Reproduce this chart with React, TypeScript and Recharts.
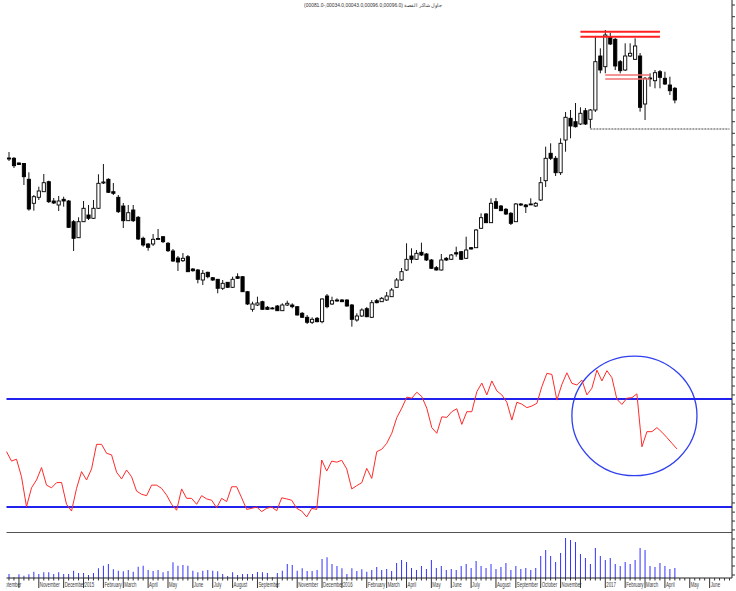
import React from 'react';
import { ComposedChart, Bar, Line, XAxis, YAxis, ReferenceLine, ReferenceArea } from 'recharts';

// ---------- data (weekly) ----------
const WEEKS = 146; // weekly slots on the time axis (data + empty future weeks)

const opens = [
  24.2, 24.17, 23.7, 23.65, 22.07, 19.67, 20.27, 20.83, 21.83, 19.9,
  19.5, 20.07, 19.9, 17.83, 16.23, 17.83, 18.5, 18.17, 19.17, 21.7,
  22.07, 20.83, 20.27, 19.4, 17.93, 19.0, 18.27, 16.17, 15.6, 15.6,
  16.1, 16.33, 15.67, 14.9, 14.2, 13.93, 14.33, 13.1, 13.0, 12.0,
  12.77, 12.23, 12.07, 11.17, 11.77, 11.27, 12.33, 12.33, 10.83, 9.07,
  9.5, 9.83, 9.27, 9.2, 9.4, 8.93, 9.5, 9.5, 9.33, 8.67,
  8.27, 7.77, 8.17, 7.83, 10.4, 9.6, 10.0, 10.0, 10.0, 9.5,
  8.0, 8.4, 9.13, 8.27, 9.93, 9.83, 10.0, 10.33, 11.27, 12.0,
  13.0, 14.4, 14.07, 14.77, 14.6, 14.0, 13.23, 13.0, 14.17, 14.07,
  14.73, 14.83, 14.17, 15.23, 15.23, 17.17, 18.6, 17.73, 19.83, 19.4,
  19.07, 18.67, 17.83, 19.6, 19.5, 19.55, 19.4, 20.0, 21.93, 24.67,
  24.17, 22.73, 26.0, 28.17, 27.83, 27.6, 28.93, 28.07, 29.0, 34.4,
  33.33, 36.33, 36.07, 33.83, 33.0, 34.4, 34.07, 34.4, 29.6, 32.17,
  31.93, 32.83, 32.17, 31.5, 31.17,
];
const highs = [
  24.8, 24.3, 23.75, 23.7, 22.77, 20.5, 21.33, 22.6, 21.93, 20.2,
  20.4, 20.33, 20.0, 18.0, 18.27, 19.9, 19.5, 20.0, 22.57, 23.6,
  22.17, 21.7, 20.5, 19.7, 19.5, 19.5, 18.4, 16.33, 15.7, 16.6,
  17.1, 16.4, 15.8, 15.1, 14.4, 14.7, 14.5, 13.2, 13.1, 13.0,
  12.83, 12.3, 12.1, 12.0, 11.8, 12.33, 12.67, 12.4, 10.9, 9.83,
  10.33, 9.93, 9.4, 9.3, 9.5, 9.67, 9.93, 9.67, 9.4, 8.8,
  8.5, 8.27, 8.3, 10.17, 10.6, 10.33, 10.17, 10.1, 10.07, 9.6,
  8.67, 9.17, 9.3, 10.0, 10.1, 10.3, 10.8, 11.2, 12.2, 13.2,
  15.67, 15.17, 15.0, 15.73, 14.7, 14.1, 13.4, 14.6, 14.3, 14.6,
  15.33, 14.9, 16.33, 15.3, 17.1, 18.67, 18.7, 20.17, 20.2, 19.5,
  19.2, 18.8, 19.7, 19.7, 19.6, 20.17, 19.8, 22.3, 25.33, 25.67,
  24.4, 26.17, 28.8, 29.0, 29.7, 29.27, 29.2, 29.1, 36.33, 35.17,
  37.0, 36.73, 36.2, 34.0, 35.67, 35.67, 36.17, 34.7, 32.3, 32.67,
  33.0, 33.0, 32.83, 32.33, 31.3,
];
const lows = [
  23.9, 23.2, 23.5, 21.5, 18.93, 18.93, 20.0, 20.8, 19.7, 19.6,
  18.9, 19.33, 17.2, 14.9, 16.2, 17.8, 18.0, 18.1, 19.1, 21.6,
  20.7, 20.5, 18.7, 17.2, 17.9, 17.8, 16.0, 15.33, 14.93, 15.4,
  16.0, 15.7, 14.8, 13.8, 12.9, 13.8, 12.8, 12.83, 11.67, 11.5,
  12.17, 11.9, 10.67, 11.0, 11.2, 11.2, 12.1, 10.8, 9.5, 8.83,
  9.4, 9.0, 9.0, 9.07, 8.9, 8.9, 9.4, 9.17, 8.45, 8.2,
  7.6, 7.6, 7.77, 7.67, 9.17, 9.5, 9.83, 9.8, 9.33, 7.33,
  7.83, 8.3, 8.27, 8.2, 9.67, 9.8, 9.9, 10.3, 11.2, 11.9,
  12.9, 13.67, 14.0, 14.4, 13.9, 13.1, 12.95, 12.95, 13.9, 14.0,
  14.33, 14.0, 14.1, 15.05, 15.2, 17.1, 17.7, 17.7, 19.1, 18.9,
  18.5, 17.5, 17.8, 19.4, 18.7, 19.5, 19.3, 19.9, 21.3, 24.0,
  22.4, 22.5, 24.83, 26.17, 27.25, 27.5, 27.5, 27.17, 28.8, 32.67,
  32.67, 35.5, 33.0, 32.67, 32.9, 34.3, 34.0, 28.83, 28.0, 31.33,
  31.17, 31.17, 31.5, 30.5, 29.67,
];
const closes = [
  24.1, 23.43, 23.55, 22.33, 19.1, 20.33, 20.9, 21.73, 19.83, 19.7,
  19.9, 19.9, 17.27, 16.17, 17.83, 19.17, 18.17, 19.17, 21.67, 21.8,
  20.77, 20.67, 18.83, 17.93, 18.73, 17.93, 16.1, 15.5, 15.27, 16.07,
  16.15, 15.83, 14.93, 13.9, 13.8, 14.17, 12.83, 12.93, 12.07, 12.67,
  12.33, 12.0, 11.17, 11.67, 11.27, 12.07, 12.17, 10.83, 9.6, 9.6,
  9.7, 9.07, 9.07, 9.15, 8.93, 9.5, 9.67, 9.33, 8.5, 8.27,
  7.77, 8.07, 7.83, 10.1, 9.33, 9.93, 9.9, 9.83, 9.4, 8.07,
  8.4, 9.0, 8.33, 9.73, 9.73, 10.17, 10.4, 11.0, 12.0, 12.83,
  14.07, 14.07, 14.67, 14.5, 14.0, 13.17, 13.0, 14.0, 14.0, 14.5,
  14.6, 14.07, 15.0, 15.1, 17.0, 18.23, 17.73, 19.67, 19.17, 18.93,
  18.6, 17.67, 19.6, 19.5, 19.33, 19.6, 19.67, 21.73, 24.17, 24.17,
  22.73, 25.67, 28.27, 27.4, 27.33, 28.67, 27.6, 29.0, 33.83, 33.0,
  36.5, 35.6, 33.4, 32.93, 34.4, 34.67, 35.4, 29.27, 32.17, 32.2,
  32.73, 32.27, 31.6, 30.93, 30.0,
];
const rsiValues = [
  50.5, 47.0, 47.7, 41.2, 30.1, 37.1, 40.0, 44.6, 38.1, 37.1,
  39.0, 39.1, 31.0, 28.5, 36.9, 43.1, 40.0, 44.1, 53.2, 53.2,
  49.9, 49.3, 42.9, 40.4, 43.7, 41.2, 35.9, 34.7, 34.2, 38.1,
  38.1, 36.9, 34.4, 31.0, 28.8, 36.7, 33.2, 33.2, 31.0, 34.2,
  33.0, 32.5, 29.7, 33.2, 32.0, 37.5, 37.5, 33.4, 29.1, 29.5,
  30.0, 28.3, 29.5, 30.0, 28.6, 33.4, 33.0, 32.5, 29.5, 28.5,
  26.3, 29.5, 29.1, 47.4, 43.3, 47.0, 46.6, 47.3, 44.1, 36.7,
  37.9, 39.0, 44.3, 40.6, 50.5, 51.4, 53.6, 57.3, 63.1, 66.6,
  70.7, 70.3, 72.5, 70.9, 66.6, 59.4, 57.3, 63.4, 63.2, 65.3,
  66.4, 60.6, 65.3, 65.3, 72.7, 75.9, 71.5, 76.7, 73.0, 71.5,
  68.8, 62.2, 68.8, 68.1, 66.8, 67.4, 68.4, 74.6, 79.5, 79.1,
  69.6, 75.4, 79.7, 75.8, 75.2, 77.0, 71.5, 74.0, 80.7, 76.7,
  80.5, 77.9, 69.9, 68.0, 70.3, 70.5, 71.9, 52.3, 57.9, 57.9,
  59.4, 57.7, 55.7, 53.6, 51.5,
];
const volumes = [
  400, 70, 370, 230, 370, 630, 400, 570, 570, 400,
  570, 400, 400, 730, 500, 500, 300, 500, 970, 1230,
  1400, 870, 730, 670, 800, 630, 1130, 1230, 800, 700,
  800, 570, 700, 1570, 1230, 1300, 1230, 730, 570, 730,
  800, 730, 670, 400, 200, 570, 300, 400, 400, 400,
  600, 570, 500, 70, 500, 730, 1400, 1300, 730, 970,
  700, 700, 800, 1900, 2070, 1400, 1200, 970, 400, 970,
  700, 870, 630, 800, 1100, 800, 900, 700, 1500, 1800,
  1600, 1000, 800, 1200, 900, 1800, 1000, 1200, 800, 900,
  800, 1200, 1400, 1000, 1700, 1200, 1000, 1400, 900, 1100,
  1500, 800, 1200, 900, 1000, 800, 1000, 2200, 2800, 2200,
  1600, 2500, 4000, 3800, 3600, 2400, 2000, 1400, 3000, 2200,
  1800, 2000, 1400, 1200, 1600, 1400, 1800, 3000, 2800, 1200,
  1100, 1500, 1200, 900, 1000,
];

// month ticks on the weekly axis ('' = tick without label)
const monthTickWeeks = [2, 6, 11, 15, 19, 23, 28, 32, 37, 41, 45, 50, 54, 58, 63, 67, 72, 76, 80, 85, 89, 93, 98, 102, 107, 111, 115, 120, 124, 128, 132, 137, 141];
const monthTickLabels = ['', 'November', 'December', '2015', 'February', 'March', 'April', 'May', 'June', 'July', 'August', 'September', '', 'November', 'December', '2016', 'February', 'March', 'April', 'May', 'June', 'July', 'August', 'September', 'October', 'November', '', '2017', 'February', 'March', 'April', 'May', 'June'];
const leadingMonthLabel = 'September';
const leadingMonthOffsetWeeks = 2;

const priceTicks = [39.5, 38.33, 37.17, 36.0, 34.83, 33.67, 32.5, 31.33, 30.17, 29.0, 27.83, 26.67, 25.5, 24.33, 23.17, 22.0, 20.83, 19.67, 18.5, 17.33, 16.17, 15.0, 13.83, 12.67, 11.5, 10.33, 9.17, 8.0, 6.83, 5.67];
const rsiTicks = [88.1, 84.8, 81.5, 78.1, 74.8, 71.5, 68.1, 64.8, 61.5, 58.1, 54.8, 51.5, 48.1, 44.8, 41.5, 38.1, 34.8, 31.5, 28.1, 24.8, 21.5];
const volTicks = [3900, 3000, 2100, 1200, 300];

const resistanceTop = [36.83, 36.33];
const resistanceMid = [32.5, 32.1];
const supportLevel = 27.1;
const titleText = '(00081.0-,00034.0,00043.0,00096.0,00096.0) جاول شاكر القصة';

// ---------- layout ----------
const CHART_W = 770;
const PLOT_LEFT = 6.5;
const AXIS_W = 38;
const BAND = (CHART_W - AXIS_W - PLOT_LEFT) / WEEKS;
const FONT = "'Liberation Sans', Arial, sans-serif";
const LABEL_SCALE = 0.64;

const rows = Array.from({ length: WEEKS }, (_, i) => ({
  week: i,
  open: i < opens.length ? opens[i] : null,
  close: i < closes.length ? closes[i] : null,
  high: i < highs.length ? highs[i] : null,
  low: i < lows.length ? lows[i] : null,
  range: i < opens.length ? [lows[i], highs[i]] : null,
  rsi: i < rsiValues.length ? rsiValues[i] : null,
  vol: i < volumes.length ? volumes[i] : null,
}));

function Candle(props: any) {
  const { x, y, width, height, payload } = props;
  if (!payload || payload.open == null || x == null || y == null) return null;
  const { open, close, high, low } = payload;
  const top = Math.min(y, y + height);
  const hPx = Math.abs(height);
  const span = high - low;
  const k = span > 0 ? hPx / span : 0;
  const cx = x + width / 2;
  const yO = top + (high - open) * k;
  const yC = top + (high - close) * k;
  const bTop = Math.min(yO, yC);
  const bH = Math.max(Math.abs(yC - yO), 0.9);
  const up = close >= open;
  return (
    <g>
      <line x1={cx} x2={cx} y1={top} y2={top + hPx} stroke="#151515" strokeWidth={1} />
      <rect x={cx - 1.6} y={bTop} width={3.2} height={bH} fill={up ? '#ffffff' : '#000000'} stroke="#000" strokeWidth={0.9} />
    </g>
  );
}

function EmptyTick() {
  return <g />;
}

function AxisLabel({ x, y, text, clip }: { x: number; y: number; text: string; clip?: string }) {
  return (
    <g clipPath={clip}>
      <text transform={`translate(${x} ${y}) scale(${LABEL_SCALE} 1)`} fontSize={6.8} fontFamily={FONT} fill="#3a3a3a">{text}</text>
    </g>
  );
}

function WeekTick(props: any) {
  const { x, y, payload } = props;
  const w = Number(payload.value);
  const mi = monthTickWeeks.indexOf(w);
  const isMonth = mi >= 0;
  const label = isMonth ? monthTickLabels[mi] : '';
  return (
    <g>
      <line x1={x} x2={x} y1={y} y2={y + (isMonth ? 10 : 2.5)} stroke="#333" strokeWidth={1} />
      {label ? <AxisLabel x={x + 1} y={y + 9.3} text={label} /> : null}
      {w === 0 ? (
        <g>
          <defs>
            <clipPath id="leftEdgeClip">
              <rect x={PLOT_LEFT} y={y - 5} width={200} height={30} />
            </clipPath>
          </defs>
          <AxisLabel x={x - leadingMonthOffsetWeeks * BAND + 1} y={y + 9.3} text={leadingMonthLabel} clip="url(#leftEdgeClip)" />
        </g>
      ) : null}
    </g>
  );
}

function EllipseShape(props: any) {
  const { x, y, width, height } = props;
  if (x == null) return null;
  return (
    <ellipse cx={x + width / 2} cy={y + height / 2} rx={width / 2} ry={height / 2} fill="none" stroke="#3040ee" strokeWidth={1.3} />
  );
}

const rightAxisProps = {
  orientation: 'right' as const,
  width: AXIS_W,
  tick: (p: any) => <EmptyTick {...p} />,
  tickLine: { stroke: '#333' },
  tickSize: 3,
  interval: 0 as const,
  axisLine: { stroke: '#222' },
  allowDataOverflow: true,
};

export default function App() {
  return (
    <div style={{ position: 'absolute', left: 0, top: 0, width: 736, height: 591, overflow: 'hidden', background: '#fff' }}>
      <svg style={{ position: 'absolute', left: 0, top: 0 }} width={736} height={12}>
        <text x={373} y={6.5} textAnchor="middle" fontSize={4.9} fontFamily={FONT} fill="#333">{titleText}</text>
      </svg>

      {/* price pane */}
      <div style={{ position: 'absolute', left: 0, top: 0 }}>
        <ComposedChart width={CHART_W} height={346} data={rows} margin={{ top: 0, right: 0, bottom: 0, left: PLOT_LEFT }} barCategoryGap={0}>
          <XAxis dataKey="week" type="category" hide />
          <YAxis {...rightAxisProps} domain={[5.4, 40]} ticks={priceTicks} type="number" />
          <Bar dataKey="range" isAnimationActive={false} shape={(p: any) => <Candle {...p} />} />
          <ReferenceLine segment={[{ x: 115, y: resistanceTop[0] }, { x: 131, y: resistanceTop[0] }]} stroke="#ff2020" strokeWidth={2} />
          <ReferenceLine segment={[{ x: 115, y: resistanceTop[1] }, { x: 131, y: resistanceTop[1] }]} stroke="#ff2020" strokeWidth={2} />
          <ReferenceLine segment={[{ x: 120, y: resistanceMid[0] }, { x: 129, y: resistanceMid[0] }]} stroke="#f07070" strokeWidth={1.4} />
          <ReferenceLine segment={[{ x: 120, y: resistanceMid[1] }, { x: 129, y: resistanceMid[1] }]} stroke="#f07070" strokeWidth={1.4} />
          <ReferenceLine segment={[{ x: 117, y: supportLevel }, { x: 145, y: supportLevel }]} stroke="#444" strokeWidth={1} strokeDasharray="2 1" />
        </ComposedChart>
      </div>

      {/* RSI pane */}
      <div style={{ position: 'absolute', left: 0, top: 346 }}>
        <ComposedChart width={CHART_W} height={186} data={rows} margin={{ top: 0, right: 0, bottom: 0, left: PLOT_LEFT }}>
          <XAxis dataKey="week" type="category" hide />
          <YAxis {...rightAxisProps} domain={[20.74, 89.63]} ticks={rsiTicks} type="number" />
          <ReferenceLine y={70} stroke="#2222ee" strokeWidth={1.8} />
          <ReferenceLine y={30} stroke="#2222ee" strokeWidth={1.8} />
          <Line type="linear" dataKey="rsi" stroke="#ff2a2a" strokeWidth={1} dot={false} isAnimationActive={false} />
          <ReferenceArea x1={113} x2={138} y1={41.6} y2={85.9} shape={(p: any) => <EllipseShape {...p} />} />
        </ComposedChart>
      </div>

      {/* volume pane + time axis */}
      <div style={{ position: 'absolute', left: 0, top: 532 }}>
        <ComposedChart width={CHART_W} height={59} data={rows} margin={{ top: 0, right: 0, bottom: 0, left: PLOT_LEFT }}>
          <XAxis
            dataKey="week"
            type="category"
            height={13}
            interval={0}
            tickLine={false}
            tickSize={0}
            tickMargin={0}
            axisLine={{ stroke: '#222' }}
            tick={(p: any) => <WeekTick {...p} />}
          />
          <YAxis {...rightAxisProps} domain={[0, 4600]} ticks={volTicks} type="number" />
          <ReferenceLine y={4600} stroke="#1a1a1a" strokeWidth={1.3} />
          <Bar dataKey="vol" barSize={1} fill="#3333ff" isAnimationActive={false} />
        </ComposedChart>
      </div>
    </div>
  );
}
